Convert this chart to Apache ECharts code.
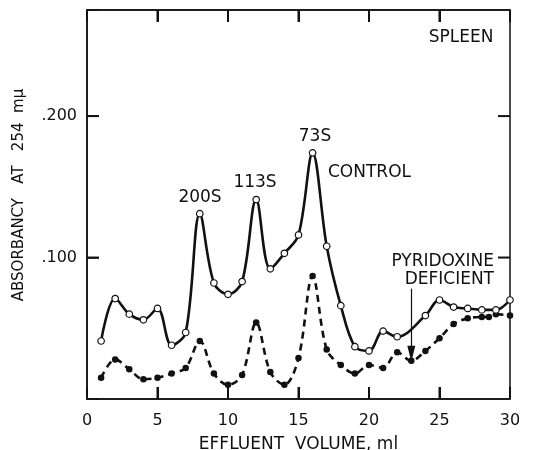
<!DOCTYPE html>
<html>
<head>
<meta charset="utf-8">
<script src="https://cdn.jsdelivr.net/npm/echarts@6/dist/echarts.min.js"></script>
<style>
  html, body { margin: 0; padding: 0; background: #fff; }
  #chart { width: 536px; height: 450px; }
</style>
</head>
<body>
<div id="chart"></div>
<script>
// Sucrose-gradient profile of spleen ribosomes: absorbancy at 254 mμ vs effluent volume (ml)
const controlVolume = [1, 2, 3, 4, 5, 6, 7, 8, 9, 10, 11, 12, 13, 14, 15, 16, 17, 18, 19, 20, 21, 22, 24, 25, 26, 27, 28, 29, 30];
const controlAbsorbancy = [0.041, 0.071, 0.060, 0.056, 0.064, 0.038, 0.047, 0.131, 0.082, 0.074, 0.083, 0.141, 0.092, 0.103, 0.116, 0.174, 0.108, 0.066, 0.037, 0.034, 0.048, 0.044, 0.059, 0.070, 0.065, 0.064, 0.063, 0.063, 0.070];

const deficientVolume = [1, 2, 3, 4, 5, 6, 7, 8, 9, 10, 11, 12, 13, 14, 15, 16, 17, 18, 19, 20, 21, 22, 23, 24, 25, 26, 27, 28, 28.5, 29, 30];
const deficientAbsorbancy = [0.015, 0.028, 0.021, 0.014, 0.015, 0.018, 0.022, 0.041, 0.018, 0.010, 0.017, 0.054, 0.019, 0.010, 0.029, 0.087, 0.035, 0.024, 0.018, 0.024, 0.022, 0.033, 0.027, 0.034, 0.043, 0.053, 0.057, 0.058, 0.058, 0.060, 0.059];

const xTickLabels = ['0', '5', '10', '15', '20', '25', '30'];
const yTickLabels = ['.100', '.200'];
const xInnerTicks = [5, 10, 15, 20, 25];
const yInnerTicks = [0.1, 0.2];

const X_MIN = 0, X_MAX = 30, Y_MIN = 0, Y_MAX = 0.275;
const INK = '#111111';
const FONT = '"DejaVu Sans", sans-serif';
const TICK_LEN = 12;

const pairs = (xs, ys) => xs.map((x, i) => [x, ys[i]]);

const chart = echarts.init(document.getElementById('chart'));

const yFormatter = v => {
  if (Math.abs(v - 0.1) < 1e-9) return yTickLabels[0];
  if (Math.abs(v - 0.2) < 1e-9) return yTickLabels[1];
  return '';
};
const xFormatter = v => {
  const i = Math.round(v / 5);
  return Math.abs(v - i * 5) < 1e-9 && xTickLabels[i] !== undefined ? xTickLabels[i] : '';
};

const txt = (x, y, text, align) => ({
  type: 'text', x: x, y: y, silent: true,
  style: { text: text, align: align, verticalAlign: 'middle', font: '17px ' + FONT, fill: INK }
});

const labels = [
  txt(461, 38, 'SPLEEN', 'center'),
  txt(315, 137, '73S', 'center'),
  txt(328, 173, 'CONTROL', 'left'),
  txt(255, 183, '113S', 'center'),
  txt(200, 198, '200S', 'center'),
  txt(494, 262, 'PYRIDOXINE', 'right'),
  txt(494, 280, 'DEFICIENT', 'right'),
  {
    type: 'text', x: 19, y: 195, rotation: Math.PI / 2, silent: true,
    style: { text: 'ABSORBANCY   AT   254  mμ', align: 'center', verticalAlign: 'middle', font: '15px ' + FONT, fill: INK }
  }
];

chart.setOption({
  animation: false,
  backgroundColor: '#fff',
  grid: {
    left: 87, right: 26, top: 10, bottom: 51, outerBoundsMode: 'none',
    show: true, borderColor: INK, borderWidth: 1.5, backgroundColor: 'transparent'
  },
  xAxis: [
    {
      type: 'value', min: X_MIN, max: X_MAX, interval: 5, position: 'bottom',
      axisLine: { show: true, onZero: false, lineStyle: { color: INK, width: 1.5 } },
      axisTick: { show: true, inside: true, length: TICK_LEN, lineStyle: { color: INK, width: 2 } },
      splitLine: { show: false },
      axisLabel: { margin: 14, color: INK, fontFamily: FONT, fontSize: 16, formatter: xFormatter },
      name: 'EFFLUENT  VOLUME, ml',
      nameLocation: 'middle',
      nameGap: 37,
      nameTextStyle: { color: INK, fontFamily: FONT, fontSize: 17 }
    },
    {
      type: 'value', min: X_MIN, max: X_MAX, interval: 5, position: 'top',
      axisLine: { show: true, onZero: false, lineStyle: { color: INK, width: 1.5 } },
      axisTick: { show: true, inside: true, length: TICK_LEN, lineStyle: { color: INK, width: 2 } },
      splitLine: { show: false },
      axisLabel: { show: false }
    }
  ],
  yAxis: [
    {
      type: 'value', min: Y_MIN, max: Y_MAX, interval: 0.1,
      axisLine: { show: true, lineStyle: { color: INK, width: 1.5 } },
      axisTick: { show: true, inside: true, length: TICK_LEN, lineStyle: { color: INK, width: 1.5 } },
      splitLine: { show: false },
      axisLabel: { margin: 10, color: INK, fontFamily: FONT, fontSize: 16, formatter: yFormatter }
    }
  ],
  series: [
    {
      name: 'CONTROL',
      type: 'line',
      data: pairs(controlVolume, controlAbsorbancy),
      smooth: 0.35,
      symbol: 'circle',
      symbolSize: 6.5,
      showAllSymbol: true,
      lineStyle: { color: INK, width: 2.6 },
      itemStyle: { color: '#fff', borderColor: INK, borderWidth: 1.2 },
      z: 3
    },
    {
      name: 'PYRIDOXINE DEFICIENT',
      type: 'line',
      data: pairs(deficientVolume, deficientAbsorbancy),
      smooth: 0.35,
      symbol: 'circle',
      symbolSize: 6.5,
      showAllSymbol: true,
      lineStyle: { color: INK, width: 2.6, type: [7, 5] },
      itemStyle: { color: INK, borderColor: INK, borderWidth: 0 },
      z: 2,
      markLine: {
        silent: true,
        symbol: ['none', 'triangle'],
        symbolSize: [8, 16],
        label: { show: false },
        lineStyle: { color: INK, width: 1.2, type: 'solid' },
        data: [[{ coord: [23, 0.078] }, { coord: [23, 0.032] }]]
      }
    }
  ],
  graphic: labels
});

// Inward frame ticks on all four sides, placed through the axes' own scales
const toPx = (x, y) => chart.convertToPixel({ xAxisIndex: 0, yAxisIndex: 0 }, [x, y]);
const seg = (x1, y1, x2, y2) => ({
  type: 'line', silent: true, z: 50,
  shape: { x1: x1, y1: y1, x2: x2, y2: y2 },
  style: { stroke: INK, lineWidth: 2, lineDash: null }
});
const frameTicks = [];
const yBottom = toPx(X_MIN, Y_MIN)[1];
const yTop = toPx(X_MIN, Y_MAX)[1];
xInnerTicks.forEach(v => {
  const px = toPx(v, Y_MIN)[0];
  frameTicks.push(seg(px, yBottom, px, yBottom - TICK_LEN));
  frameTicks.push(seg(px, yTop, px, yTop + TICK_LEN));
});
yInnerTicks.forEach(v => {
  const l = toPx(X_MIN, v), r = toPx(X_MAX, v);
  frameTicks.push(seg(l[0], l[1], l[0] + TICK_LEN, l[1]));
  frameTicks.push(seg(r[0], r[1], r[0] - TICK_LEN, r[1]));
});
chart.setOption({ graphic: labels.concat(frameTicks) });
</script>
</body>
</html>
